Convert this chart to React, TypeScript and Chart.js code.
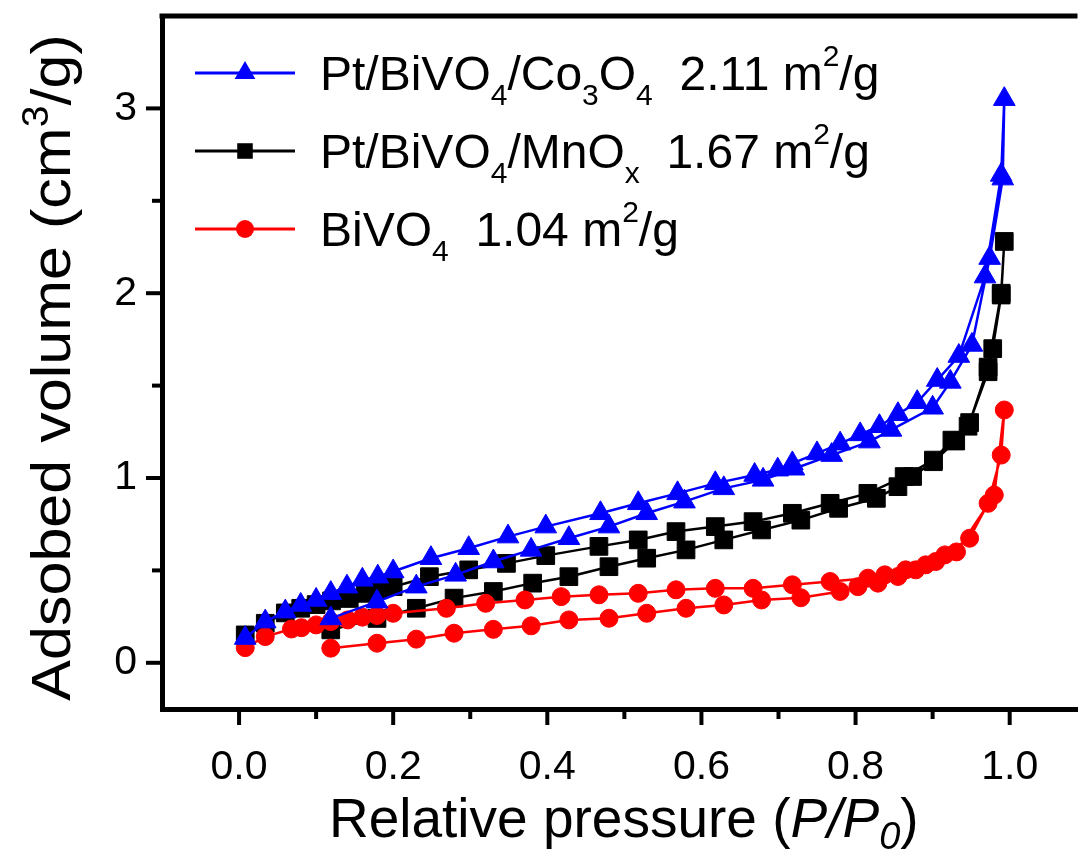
import React, { useEffect, useRef } from 'react';
import { Chart, registerables } from 'chart.js';

Chart.register(...registerables);

// ---- Data ----
// Pt/BiVO4/Co3O4 (blue triangles)
const coAdsX = [0.008, 0.034, 0.060, 0.080, 0.100, 0.119, 0.140, 0.160, 0.180, 0.200, 0.249, 0.298, 0.349, 0.398, 0.469, 0.518, 0.569, 0.618, 0.669, 0.699, 0.718, 0.750, 0.780, 0.806, 0.831, 0.855, 0.880, 0.906, 0.934, 0.968, 0.989, 0.993];
const coAdsY = [0.134, 0.223, 0.277, 0.313, 0.340, 0.377, 0.412, 0.449, 0.466, 0.494, 0.566, 0.620, 0.683, 0.737, 0.809, 0.863, 0.917, 0.971, 1.016, 1.045, 1.079, 1.133, 1.186, 1.236, 1.280, 1.345, 1.410, 1.530, 1.660, 2.090, 2.640, 3.050];
const coDesX = [0.991, 0.974, 0.951, 0.923, 0.900, 0.846, 0.818, 0.769, 0.720, 0.680, 0.629, 0.578, 0.529, 0.480, 0.428, 0.379, 0.330, 0.281, 0.230, 0.179, 0.119];
const coDesY = [2.620, 2.190, 1.720, 1.520, 1.380, 1.260, 1.197, 1.124, 1.050, 0.990, 0.944, 0.872, 0.809, 0.737, 0.674, 0.611, 0.548, 0.476, 0.412, 0.331, 0.240];

// Pt/BiVO4/MnOx (black squares)
const mnAdsX = [0.008, 0.034, 0.060, 0.080, 0.100, 0.120, 0.143, 0.164, 0.181, 0.200, 0.247, 0.298, 0.347, 0.398, 0.467, 0.518, 0.567, 0.618, 0.667, 0.718, 0.767, 0.816, 0.863, 0.901, 0.925, 0.948, 0.972, 0.989, 0.993];
const mnAdsY = [0.151, 0.214, 0.270, 0.295, 0.315, 0.335, 0.348, 0.376, 0.395, 0.412, 0.466, 0.503, 0.538, 0.580, 0.630, 0.665, 0.710, 0.737, 0.764, 0.809, 0.863, 0.917, 1.008, 1.097, 1.205, 1.300, 1.600, 2.000, 2.280];
const mnDesX = [0.989, 0.978, 0.972, 0.946, 0.930, 0.901, 0.874, 0.855, 0.827, 0.778, 0.729, 0.678, 0.629, 0.580, 0.529, 0.480, 0.428, 0.381, 0.330, 0.279, 0.230, 0.179, 0.119];
const mnDesY = [1.990, 1.700, 1.575, 1.280, 1.200, 1.088, 1.008, 0.953, 0.890, 0.836, 0.772, 0.719, 0.665, 0.611, 0.566, 0.520, 0.466, 0.431, 0.386, 0.350, 0.295, 0.240, 0.178];

// BiVO4 (red circles)
const biAdsX = [0.008, 0.034, 0.068, 0.081, 0.100, 0.119, 0.141, 0.160, 0.179, 0.200, 0.269, 0.320, 0.371, 0.418, 0.467, 0.518, 0.567, 0.618, 0.667, 0.718, 0.767, 0.816, 0.838, 0.865, 0.891, 0.916, 0.948, 0.972, 0.989, 0.993];
const biAdsY = [0.082, 0.142, 0.183, 0.190, 0.205, 0.223, 0.232, 0.247, 0.256, 0.268, 0.295, 0.322, 0.340, 0.358, 0.368, 0.376, 0.395, 0.403, 0.403, 0.422, 0.440, 0.458, 0.476, 0.503, 0.530, 0.584, 0.674, 0.863, 1.124, 1.368];
const biDesX = [0.980, 0.931, 0.904, 0.878, 0.855, 0.829, 0.803, 0.780, 0.729, 0.678, 0.629, 0.580, 0.529, 0.480, 0.428, 0.379, 0.330, 0.279, 0.230, 0.179, 0.119];
const biDesY = [0.908, 0.600, 0.548, 0.503, 0.467, 0.431, 0.412, 0.386, 0.352, 0.340, 0.313, 0.295, 0.268, 0.241, 0.232, 0.200, 0.181, 0.160, 0.128, 0.106, 0.079];

// Axis ticks
const xTickValues = [0, 0.2, 0.4, 0.6, 0.8, 1.0];
const xTickLabels = ['0.0', '0.2', '0.4', '0.6', '0.8', '1.0'];
const xMinorTicks = [0.1, 0.3, 0.5, 0.7, 0.9];
const yTickValues = [0, 1, 2, 3];
const yTickLabels = ['0', '1', '2', '3'];
const yMinorTicks = [0.5, 1.5, 2.5];

type Seg = { t: string; sub?: boolean; sup?: boolean; it?: boolean };

// Series names (rich text: subscripts / superscripts)
const coName: Seg[] = [{ t: 'Pt/BiVO' }, { t: '4', sub: true }, { t: '/Co' }, { t: '3', sub: true }, { t: 'O' }, { t: '4', sub: true }, { t: '  2.11 m' }, { t: '2', sup: true }, { t: '/g' }];
const mnName: Seg[] = [{ t: 'Pt/BiVO' }, { t: '4', sub: true }, { t: '/MnO' }, { t: 'x', sub: true }, { t: '  1.67 m' }, { t: '2', sup: true }, { t: '/g' }];
const biName: Seg[] = [{ t: 'BiVO' }, { t: '4', sub: true }, { t: '  1.04 m' }, { t: '2', sup: true }, { t: '/g' }];

const xTitle: Seg[] = [{ t: 'Relative pressure (' }, { t: 'P/P', it: true }, { t: '0', sub: true, it: true }, { t: ')' }];
const yTitle: Seg[] = [{ t: 'Adsobed volume (cm' }, { t: '3', sup: true }, { t: '/g)' }];

const FONT = "'Liberation Sans', Arial, sans-serif";

const toPts = (ax: number[], ay: number[], dx: number[], dy: number[]) =>
  ax.map((x, i) => ({ x, y: ay[i] })).concat(dx.map((x, i) => ({ x, y: dy[i] })));

function richWidth(ctx: CanvasRenderingContext2D, segs: Seg[], size: number, small: number) {
  let w = 0;
  for (const s of segs) {
    const fs = s.sub || s.sup ? small : size;
    ctx.font = `${s.it ? 'italic ' : ''}${fs}px ${FONT}`;
    w += ctx.measureText(s.t).width;
  }
  return w;
}

function drawRich(ctx: CanvasRenderingContext2D, segs: Seg[], x: number, y: number, size: number, small: number, subOff: number, supOff: number) {
  let cx = x;
  ctx.textBaseline = 'alphabetic';
  ctx.textAlign = 'left';
  for (const s of segs) {
    const fs = s.sub || s.sup ? small : size;
    ctx.font = `${s.it ? 'italic ' : ''}${fs}px ${FONT}`;
    const dy = s.sub ? subOff : s.sup ? -supOff : 0;
    ctx.fillText(s.t, cx, y + dy);
    cx += ctx.measureText(s.t).width;
  }
}

function drawMarker(ctx: CanvasRenderingContext2D, style: string, x: number, y: number, r: number) {
  ctx.beginPath();
  if (style === 'triangle') {
    let a = 0;
    ctx.moveTo(x + Math.sin(a) * r, y - Math.cos(a) * r);
    a += (2 * Math.PI) / 3;
    ctx.lineTo(x + Math.sin(a) * r, y - Math.cos(a) * r);
    a += (2 * Math.PI) / 3;
    ctx.lineTo(x + Math.sin(a) * r, y - Math.cos(a) * r);
    ctx.closePath();
  } else if (style === 'rect') {
    const s = Math.SQRT1_2 * r;
    ctx.rect(x - s, y - s, 2 * s, 2 * s);
  } else {
    ctx.arc(x, y, r, 0, Math.PI * 2);
  }
  ctx.fill();
}

const decorPlugin = {
  id: 'decor',
  afterDraw(chart: any) {
    const { ctx, chartArea: ca, scales } = chart;
    const xs = scales.x;
    const ys = scales.y;
    ctx.save();
    ctx.strokeStyle = '#000';
    ctx.fillStyle = '#000';
    ctx.lineCap = 'butt';
    // top frame line
    ctx.lineWidth = 5;
    ctx.beginPath();
    ctx.moveTo(ca.left - 2.5, ca.top);
    ctx.lineTo(ca.right, ca.top);
    ctx.stroke();
    // ticks (outward)
    ctx.lineWidth = 4;
    const tick = (x1: number, y1: number, x2: number, y2: number) => {
      ctx.beginPath();
      ctx.moveTo(x1, y1);
      ctx.lineTo(x2, y2);
      ctx.stroke();
    };
    xTickValues.forEach((v) => { const p = xs.getPixelForValue(v); tick(p, ca.bottom, p, ca.bottom + 16); });
    xMinorTicks.forEach((v) => { const p = xs.getPixelForValue(v); tick(p, ca.bottom, p, ca.bottom + 10); });
    yTickValues.forEach((v) => { const p = ys.getPixelForValue(v); tick(ca.left, p, ca.left - 16, p); });
    yMinorTicks.forEach((v) => { const p = ys.getPixelForValue(v); tick(ca.left, p, ca.left - 10, p); });

    // axis titles
    const xtW = richWidth(ctx, xTitle, 55, 38);
    const xc = (ca.left + ca.right) / 2 + 4;
    drawRich(ctx, xTitle, xc - xtW / 2, 837, 55, 38, 12, 0);

    ctx.save();
    const yc = (ca.top + ca.bottom) / 2 + 5;
    ctx.translate(70, yc);
    ctx.rotate(-Math.PI / 2);
    ctx.scale(1.09, 1);
    const ytW = richWidth(ctx, yTitle, 56, 36);
    drawRich(ctx, yTitle, -ytW / 2, 0, 56, 36, 0, 22);
    ctx.restore();

    // legend
    const rows = [
      { idx: 0, name: coName, y: 73 },
      { idx: 1, name: mnName, y: 151 },
      { idx: 2, name: biName, y: 229 },
    ];
    rows.forEach((row) => {
      const ds = chart.data.datasets[row.idx];
      ctx.strokeStyle = ds.borderColor;
      ctx.fillStyle = ds.pointBackgroundColor;
      ctx.lineWidth = 3;
      tick(ca.left + 33, row.y, ca.left + 133, row.y);
      drawMarker(ctx, ds.pointStyle, ca.left + 83, row.y, ds.legendRadius);
      ctx.fillStyle = '#000';
      drawRich(ctx, row.name, ca.left + 158, row.y + 17, 48, 30, 15, 24);
    });
    ctx.restore();
  },
};

export default function App() {
  const ref = useRef<HTMLCanvasElement | null>(null);

  useEffect(() => {
    if (!ref.current) return;
    const tickFont = { family: FONT, size: 41 };
    const chart = new Chart(ref.current, {
      type: 'scatter',
      data: {
        datasets: [
          {
            label: 'Pt/BiVO4/Co3O4 2.11 m2/g',
            data: toPts(coAdsX, coAdsY, coDesX, coDesY),
            showLine: true,
            borderColor: '#0000ff',
            backgroundColor: '#0000ff',
            pointBackgroundColor: '#0000ff',
            pointBorderColor: '#0000ff',
            pointBorderWidth: 1,
            borderWidth: 2.5,
            pointStyle: 'triangle',
            pointRadius: 12.5,
            order: 0,
            legendRadius: 12,
          } as any,
          {
            label: 'Pt/BiVO4/MnOx 1.67 m2/g',
            data: toPts(mnAdsX, mnAdsY, mnDesX, mnDesY),
            showLine: true,
            borderColor: '#000000',
            backgroundColor: '#000000',
            pointBackgroundColor: '#000000',
            pointBorderColor: '#000000',
            pointBorderWidth: 1,
            borderWidth: 2.5,
            pointStyle: 'rect',
            pointRadius: 12.5,
            order: 2,
            legendRadius: 11,
          } as any,
          {
            label: 'BiVO4 1.04 m2/g',
            data: toPts(biAdsX, biAdsY, biDesX, biDesY),
            showLine: true,
            borderColor: '#ff0000',
            backgroundColor: '#ff0000',
            pointBackgroundColor: '#ff0000',
            pointBorderColor: '#ff0000',
            pointBorderWidth: 1,
            borderWidth: 2.5,
            pointStyle: 'circle',
            pointRadius: 9,
            order: 1,
            legendRadius: 9,
          } as any,
        ],
      },
      options: {
        animation: false,
        responsive: true,
        maintainAspectRatio: false,
        layout: { padding: { top: 16, left: 0, right: 0, bottom: 0 } },
        plugins: { legend: { display: false }, tooltip: { enabled: false } },
        scales: {
          x: {
            type: 'linear',
            min: -0.1,
            max: 1.088,
            afterBuildTicks: (s: any) => { s.ticks = xTickValues.map((v) => ({ value: v })); },
            afterFit: (s: any) => { s.height = 140; s.paddingLeft = 0; s.paddingRight = 0; s.paddingTop = 0; s.paddingBottom = 0; },
            ticks: {
              font: tickFont,
              color: '#000',
              padding: 34,
              maxRotation: 0,
              autoSkip: false,
              callback: (_v: any, i: number) => xTickLabels[i],
            },
            grid: { display: true, drawOnChartArea: false, drawTicks: false },
            border: { display: true, width: 5, color: '#000' },
          },
          y: {
            type: 'linear',
            min: -0.25,
            max: 3.5,
            afterBuildTicks: (s: any) => { s.ticks = yTickValues.map((v) => ({ value: v })); },
            afterFit: (s: any) => { s.width = 162; s.paddingLeft = 0; s.paddingRight = 0; s.paddingTop = 0; s.paddingBottom = 0; },
            ticks: {
              font: tickFont,
              color: '#000',
              padding: 25,
              autoSkip: false,
              callback: (_v: any, i: number) => yTickLabels[i],
            },
            grid: { display: true, drawOnChartArea: false, drawTicks: false },
            border: { display: true, width: 5, color: '#000' },
          },
        },
      },
      plugins: [decorPlugin],
    });
    return () => chart.destroy();
  }, []);

  return (
    <div style={{ position: 'absolute', left: 0, top: 0, width: 1091, height: 849, background: '#fff' }}>
      <canvas ref={ref} />
    </div>
  );
}
